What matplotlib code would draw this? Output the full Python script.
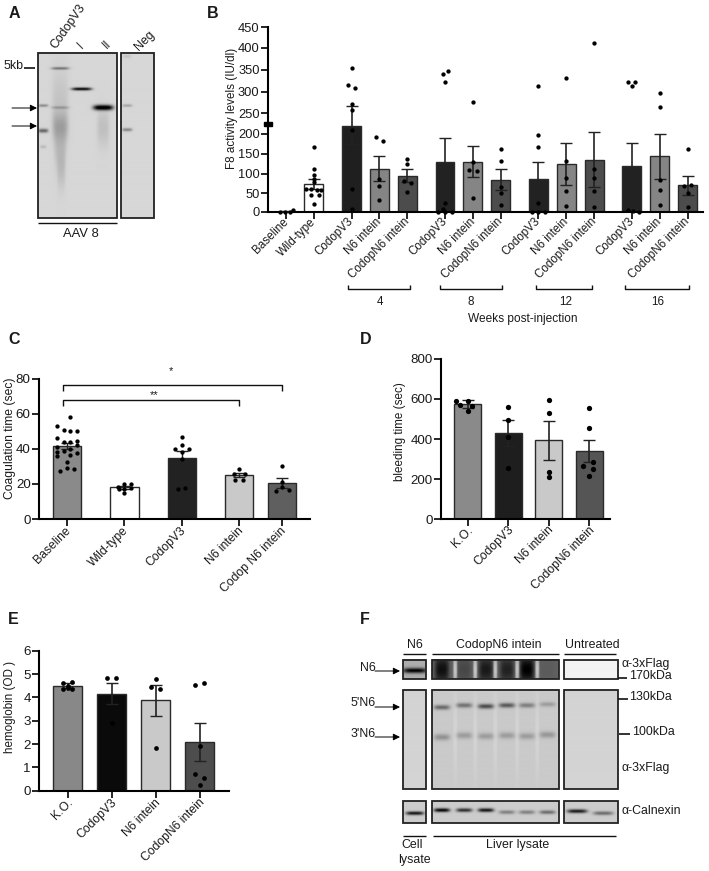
import numpy as np
import matplotlib
matplotlib.use("Agg")
import matplotlib.pyplot as plt
from matplotlib.patches import Rectangle
from matplotlib.transforms import ScaledTranslation

plt.rcParams['font.family'] = ['Liberation Sans', 'DejaVu Sans']

W, H = 709, 871

# panel B
b_labels = ["Baseline", "Wild-type", "CodopV3", "N6 intein", "CodopN6 intein", "CodopV3", "N6 intein",
            "CodopN6 intein", "CodopV3", "N6 intein", "CodopN6 intein", "CodopV3", "N6 intein", "CodopN6 intein"]
b_means = [1, 74, 220, 113, 96, 129, 131, 85, 86, 124, 135, 119, 144, 71]
b_errs = [1, 13, 46, 32, 17, 60, 39, 27, 43, 54, 70, 58, 56, 25]
b_dots = [
    [0, 0, 0, 5],
    [167, 113, 97, 86, 78, 61, 61, 58, 58, 44, 44, 22],
    [354, 315, 310, 271, 258, 210, 61, 7],
    [193, 183, 86, 68, 32],
    [138, 125, 82, 76, 52],
    [348, 341, 323, 24, 7, 0, 0, 0],
    [275, 129, 110, 108, 36],
    [162, 132, 65, 50, 18],
    [313, 197, 168, 24, 0, 0, 0],
    [331, 133, 89, 55, 15],
    [411, 112, 89, 56, 13],
    [322, 322, 313, 5, 3, 0],
    [298, 265, 85, 58, 18],
    [162, 69, 71, 50, 13],
]
b_offsets = [
    [-0.21, -0.04, 0.14, 0.26],
    [0, 0, 0, 0, 0, -0.28, -0.1, 0.1, 0.26, -0.1, 0.2, 0],
    [0, -0.12, 0.12, 0, 0, 0, 0, 0],
    [-0.13, 0.12, 0, 0, 0],
    [0, 0, -0.12, 0.12, 0],
    [0.1, -0.08, 0, 0, -0.08, -0.25, 0, 0.25],
    [0, 0, -0.14, 0.14, 0],
    [0, 0, 0, 0, 0],
    [0, 0, 0, 0, -0.22, 0, 0.25],
    [0, 0, 0, 0, 0],
    [0, 0, 0, 0, 0],
    [-0.14, 0.13, 0, -0.14, 0.03, 0.25],
    [0, 0, 0, 0, 0],
    [0, -0.12, 0.13, 0, 0],
]
b_colors = ["#333333", "#ffffff", "#1f1f1f", "#858585", "#4c4c4c", "#222222", "#858585",
            "#4c4c4c", "#222222", "#858585", "#4c4c4c", "#222222", "#858585", "#4c4c4c"]
b_pos = [0, 1, 2.35, 3.35, 4.35, 5.7, 6.7, 7.7, 9.05, 10.05, 11.05, 12.4, 13.4, 14.4]
b_ticks = [0, 50, 100, 150, 200, 250, 300, 350, 400, 450]
b_tick_px = [212, 193, 174, 154, 134, 113, 92, 70, 48, 27]

# panel C
c_labels = ["Baseline", "Wild-type", "CodopV3", "N6 intein", "Codop N6 intein"]
c_means = [41.5, 18, 34.5, 25, 20.5]
c_errs = [1.7, 0.7, 4.2, 1.3, 2.6]
c_dots = [
    [53, 58, 51, 46, 50, 50, 44.5, 44, 44, 41, 42, 39, 40, 38, 37.5, 36, 36.5, 32.5, 27.5, 29, 28.5],
    [20, 20, 18.5, 17.5, 17, 17, 15],
    [46.5, 42, 40, 40, 38, 34, 17, 17.5],
    [28.5, 25.7, 25.7, 22, 22],
    [30, 21, 18.5, 16, 16.5],
]
c_offsets = [
    [-0.17, 0.06, -0.06, -0.17, 0.06, 0.18, 0.18, -0.06, 0.06, -0.17, 0.18, -0.06, 0.06, -0.17, 0.18, -0.17, 0.06, 0, -0.12, 0, 0.12],
    [0, 0.12, -0.12, 0.12, 0, -0.09, 0],
    [0, 0, -0.12, 0.12, 0, 0, -0.06, 0.06],
    [0, -0.09, 0.09, -0.07, 0.07],
    [0, 0, 0, -0.12, 0.12],
]
c_colors = ["#8a8a8a", "#ffffff", "#222222", "#c9c9c9", "#5f5f5f"]
c_pos = [0, 1, 2, 3, 3.75]
c_ticks = [0, 20, 40, 60, 80]

# panel D
d_labels = ["K.O.", "CodopV3", "N6 intein", "CodopN6 intein"]
d_means = [572, 432, 393, 338]
d_errs = [20, 65, 98, 55]
d_dots = [
    [589, 591, 570, 565, 540],
    [561, 495, 408, 257],
    [593, 528, 237, 209],
    [556, 456, 284, 267, 252, 216],
]
d_offsets = [
    [-0.3, 0, -0.2, 0.1, 0],
    [0, 0, 0, 0],
    [0, 0, 0, 0],
    [0, 0, 0.1, -0.15, 0.1, 0],
]
d_colors = ["#8a8a8a", "#1e1e1e", "#c9c9c9", "#555555"]
d_pos = [0, 1, 2, 3]
d_ticks = [0, 200, 400, 600, 800]

# panel E
e_labels = ["K.O.", "CodopV3", "N6 intein", "CodopN6 intein"]
e_means = [4.5, 4.15, 3.87, 2.1]
e_errs = [0.1, 0.45, 0.68, 0.82]
e_dots = [
    [4.6, 4.64, 4.5, 4.34, 4.38, 4.4],
    [4.83, 4.83, 2.89],
    [4.77, 4.44, 4.37, 1.84],
    [4.53, 4.63, 1.91, 0.73, 0.56, 0.26],
]
e_offsets = [
    [-0.1, 0.1, 0, -0.1, 0.1, 0],
    [-0.1, 0.1, 0],
    [0, -0.1, 0.1, 0],
    [-0.1, 0.1, 0, -0.1, 0.1, 0],
]
e_colors = ["#888888", "#0a0a0a", "#c9c9c9", "#4d4d4d"]
e_pos = [0, 1, 2, 3]
e_ticks = [0, 1, 2, 3, 4, 5, 6]

fig = plt.figure(figsize=(W / 100, H / 100), dpi=100)

# overlay in pixel coords for blots, brackets, notes
ov = fig.add_axes([0, 0, 1, 1], zorder=5)
ov.set_xlim(0, W)
ov.set_ylim(H, 0)
ov.axis('off')
ov.patch.set_alpha(0)


def txt(x, y, s, size=8.9, ha='left', va='center', **kw):
    ov.text(x, y, s, fontsize=size, ha=ha, va=va, color='#1a1a1a', **kw)


def line(xs, ys, lw=1.0, color='#111111'):
    ov.plot(xs, ys, color=color, lw=lw, solid_capstyle='butt')


def arrow(x0, x1, y):
    ov.annotate('', xy=(x1, y), xytext=(x0, y),
                arrowprops=dict(arrowstyle='-|>', color='black', lw=0.7, mutation_scale=10, shrinkA=0, shrinkB=0))


def bars(rect, xlim, pos, labels, means, errs, colors, dots, offsets, ylim, ticks, width, ms,
         fs=8.7, scale=None, shift=(-2, 4), elw=1.0):
    l, t, r, b = rect
    ax = fig.add_axes([l / W, 1 - b / H, (r - l) / W, (b - t) / H])
    ax.patch.set_alpha(0)
    if scale is not None:
        ax.set_yscale('function', functions=scale)
    ax.bar(pos, means, width=width, color=colors, edgecolor='#2a2a2a', linewidth=1.0, zorder=2)
    ax.errorbar(pos, means, yerr=errs, fmt='none', ecolor='#222222', elinewidth=elw, capsize=4.2,
                capthick=1.0, zorder=3)
    for p, d, o in zip(pos, dots, offsets):
        ax.plot(p + np.array(o), d, 'o', color='black', ms=ms, mew=0, zorder=4, clip_on=False)
    ax.set_xlim(*xlim)
    ax.set_ylim(*ylim)
    ax.set_yticks(ticks)
    ax.set_xticks(pos)
    ax.set_xticklabels(labels, rotation=45, ha='right', rotation_mode='anchor', fontsize=fs, color='#1a1a1a')
    ax.tick_params(axis='y', labelsize=fs + 0.9, length=5, width=1.2, pad=1, labelcolor='#1a1a1a', which='both')
    ax.tick_params(axis='x', length=5, width=1.2, pad=2)
    ax.minorticks_off()
    # tick_params resets label transforms, so shift after it
    off = ScaledTranslation(shift[0] / 100, shift[1] / 100, fig.dpi_scale_trans)
    for lab in ax.get_xticklabels():
        lab.set_transform(lab.get_transform() + off)
    for s in ['top', 'right']:
        ax.spines[s].set_visible(False)
    for s in ['left', 'bottom']:
        ax.spines[s].set_linewidth(1.5)
    return ax


def blot(x0, x1, y0, y1, bg, bands):
    xs = np.arange(x0, x1, 0.5)
    ys = np.arange(y0, y1, 0.5)
    X, Y = np.meshgrid(xs, ys)
    img = np.full(X.shape, float(bg))
    for cx, cy, w, h, d in bands:
        img -= d * np.exp(-((X - cx) / w) ** 4) * np.exp(-((Y - cy) / h) ** 2)
    ov.imshow(np.clip(img, 0, 1), cmap='gray', vmin=0, vmax=1, extent=(x0, x1, y1, y0),
              aspect='auto', interpolation='bilinear', zorder=1)
    ov.add_patch(Rectangle((x0, y0), x1 - x0, y1 - y0, fill=False, ec='#222222', lw=1.3, zorder=2))


# B: axis is broken between 200 and 250, so map through the tick pixel positions
def b_fwd(v):
    return np.interp(v, b_ticks, -np.array(b_tick_px, dtype=float))


def b_inv(p):
    return np.interp(p, -np.array(b_tick_px, dtype=float), b_ticks)


bars((268, 27, 703, 212), (-0.645, 14.95), b_pos, b_labels, b_means, b_errs, b_colors, b_dots, b_offsets,
     (0, 450), b_ticks, 0.68, 3.1, fs=8.4, scale=(b_fwd, b_inv), shift=(-4, 6), elw=1.2)
bars((39, 378.7, 310, 519), (-0.487, 4.23), c_pos, c_labels, c_means, c_errs, c_colors, c_dots, c_offsets,
     (0, 80), c_ticks, 0.49, 3.1)
bars((441, 358.7, 610, 519.3), (-0.66, 3.51), d_pos, d_labels, d_means, d_errs, d_colors, d_dots, d_offsets,
     (0, 800), d_ticks, 0.667, 3.8, shift=(-1, 5), elw=1.2)
bars((39, 650.7, 229, 790.7), (-0.65, 3.66), e_pos, e_labels, e_means, e_errs, e_colors, e_dots, e_offsets,
     (0, 6), e_ticks, 0.66, 3.4, shift=(-1, 4), elw=1.2)

# panel letters
for s, x, y in [("A", 14, 14), ("B", 213, 13), ("C", 14, 339), ("D", 366, 339), ("E", 13, 619), ("F", 365, 619)]:
    txt(x, y, s, size=11.5, ha='center', fontweight='bold')

# y labels
txt(232, 108, "F8 activity levels (IU/dl)", ha='center', rotation=90, size=8.4)
txt(10, 438, "Coagulation time (sec)", ha='center', rotation=90, size=8.7)
txt(400, 432, "bleeding time (sec)", ha='center', rotation=90, size=8.4)
txt(10, 707, "hemoglobin (OD )", ha='center', rotation=90, size=8.4)

# B extras
ov.add_patch(Rectangle((264, 122), 8, 4, color='black', zorder=6))
for x0, x1, lab, lx in [(348, 410, "4", 380), (440, 502, "8", 471), (536, 592, "12", 566), (625, 689, "16", 658)]:
    line([x0, x0, x1, x1], [285, 289, 289, 285])
    txt(lx, 302, lab, ha='center', size=8.4)
txt(523, 319, "Weeks post-injection", ha='center', size=8.6)

# C brackets
line([63, 63, 282, 282], [391, 385, 385, 391])
line([63, 63, 239, 239], [406, 400, 400, 406])
txt(171, 371, "*", ha='center', size=8)
txt(154, 395, "**", ha='center', size=8)

# A blots
blot(38, 117, 53, 218, 0.84, [
    (60, 69, 9, 1.3, 0.38), (60, 108, 9, 1.4, 0.18), (60, 100, 8, 30, 0.07), (60, 127, 8, 14, 0.17),
    (60, 150, 6, 20, 0.1), (61, 172, 4, 18, 0.08),
    (81.5, 89.5, 10, 1.5, 0.82), (103, 108, 10, 2.6, 0.95), (103, 128, 6, 18, 0.09),
    (43, 106, 5, 1.4, 0.3), (43, 131, 5, 2, 0.45), (43, 147, 3, 1.5, 0.12),
])
blot(121, 154, 53, 218, 0.84, [(127, 106, 5, 1.4, 0.2), (127, 130, 5, 1.6, 0.32), (127, 57, 4, 1.5, 0.08)])
txt(4, 66, "5kb", size=8.9)
line([24, 35], [68, 68], lw=1.2)
arrow(12, 37, 108)
arrow(12, 37, 126)
line([38, 117], [223, 223], lw=1.0)
txt(81, 234, "AAV 8", ha='center', size=9.4)
txt(58, 51, "CodopV3", rotation=55, ha='left', va='bottom', rotation_mode='anchor', size=8.9)
txt(84, 51, "I", rotation=45, ha='left', va='bottom', rotation_mode='anchor', size=8.6)
txt(109, 51, "II", rotation=45, ha='left', va='bottom', rotation_mode='anchor', size=8.6)
txt(141, 53, "Neg", rotation=45, ha='left', va='bottom', rotation_mode='anchor', size=8.9)

# F blots
lanes = [441.7, 464, 485.7, 506.7, 526.7, 547.3]
top_dark = [0.32, 0.1, 0.28, 0.25, 0.38, 0.02]
top_gaps = [455, 475, 495, 517, 537]
y5 = [708, 706, 707, 706, 706, 705]
d5 = [0.38, 0.35, 0.5, 0.45, 0.3, 0.18]
y3 = [737.7, 736, 736.7, 736, 736.7, 735.3]
d3 = [0.22, 0.18, 0.18, 0.18, 0.18, 0.2]
cal_y = [810, 810, 810, 812, 812, 812]
cal_d = [0.78, 0.62, 0.72, 0.3, 0.3, 0.38]
c3_y = [811, 813]
c3_d = [0.7, 0.38]

blot(403.3, 426, 660, 679.3, 0.68, [(415, 671, 12, 2.5, 0.68)])
blot(432, 559, 660, 679.3, 0.38,
     [(x, 670, 7, 14, d) for x, d in zip(lanes, top_dark)] + [(x, 670, 2, 20, -0.4) for x in top_gaps])
blot(564, 617.7, 660, 679.3, 0.95, [])
blot(403.3, 426, 690, 789.3, 0.83, [])
blot(432, 559, 690, 789.3, 0.79,
     [(x, y, 8, 2.4, d) for x, y, d in zip(lanes, y5, d5)] + [(x, y, 8, 3.2, d) for x, y, d in zip(lanes, y3, d3)]
     + [(x, 735, 2, 45, -0.04) for x in top_gaps])
blot(564, 617.7, 690, 789.3, 0.83, [])
blot(403.3, 426, 801.3, 822.7, 0.8, [(415, 813, 9, 1.8, 0.72)])
blot(432, 559, 801.3, 822.7, 0.8, [(x, y, 8, 1.9, d) for x, y, d in zip(lanes, cal_y, cal_d)])
blot(564, 617.7, 801.3, 822.7, 0.8, [(x, y, 10, 1.9, d) for x, y, d in zip([577, 603], c3_y, c3_d)])

for x0, x1 in [(403, 426), (432, 559), (564, 616)]:
    line([x0, x1], [653.7, 653.7])
line([403, 426], [835.7, 835.7])
line([433, 616], [835.7, 835.7])
txt(415, 645, "N6", ha='center')
txt(499, 645, "CodopN6 intein", ha='center')
txt(592, 645, "Untreated", ha='center')
txt(412, 845, "Cell", ha='center')
txt(414, 860, "lysate", ha='center')
txt(518, 845, "Liver lysate", ha='center')
txt(622, 664, "α-3xFlag")
txt(629, 676, "170kDa")
txt(629, 697, "130kDa")
txt(632, 732, "100kDa")
txt(622, 768, "α-3xFlag")
txt(622, 811, "α-Calnexin")
line([618, 627], [678, 678], lw=1.2)
line([618, 628], [699, 699], lw=1.2)
line([619, 630], [734, 734], lw=1.2)
txt(360, 668, "N6")
txt(351, 703, "5'N6")
txt(351, 734, "3'N6")
arrow(375, 400, 671)
arrow(375, 400, 707)
arrow(375, 400, 737)

ov.set_xlim(0, W)
ov.set_ylim(H, 0)

plt.savefig("out.png", dpi=100)
